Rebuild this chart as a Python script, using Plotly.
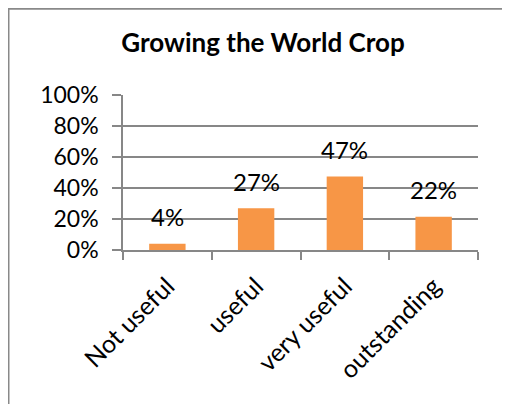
import plotly.graph_objects as go

# chart data
categories = ["Not useful", "useful", "very useful", "outstanding"]
shares = [0.04, 0.27, 0.475, 0.215]
share_labels = ["4%", "27%", "47%", "22%"]

# the page body adds an 8px margin, so the figure is 8px smaller
W, H = 502, 396
L, R, T, B = 115, 32, 87, 154
FONT = "Lato, Calibri, Carlito, sans-serif"
GRID = "#878787"


def px_x(x):
    return (x - L) / (W - L - R)


def px_y(y):
    return (H - B - y) / (H - T - B)


fig = go.Figure()

fig.add_trace(
    go.Bar(
        x=categories,
        y=shares,
        width=0.41,
        marker=dict(color="#F79646", line=dict(width=0)),
        hoverinfo="skip",
    )
)

for cat, val, lab in zip(categories, shares, share_labels):
    fig.add_annotation(
        x=cat,
        y=val,
        text=lab,
        showarrow=False,
        yshift=27,
        yanchor="middle",
        font=dict(family=FONT, size=24, color="black"),
    )

# chart frame, runs off the right and bottom of the picture
fig.add_shape(
    type="rect",
    xref="paper",
    yref="paper",
    x0=px_x(0.5),
    x1=px_x(530),
    y0=px_y(0.8),
    y1=px_y(420),
    line=dict(color="#898989", width=2),
    layer="below",
)

fig.update_layout(
    width=W,
    height=H,
    margin=dict(l=L, r=R, t=T, b=B, autoexpand=False),
    paper_bgcolor="white",
    plot_bgcolor="white",
    showlegend=False,
    title=dict(
        text="<b>Growing the World Crop</b>",
        xref="container",
        yref="container",
        x=255 / W,
        y=1 - 35 / H,
        xanchor="center",
        yanchor="middle",
        font=dict(family=FONT, size=26, color="black"),
    ),
    xaxis=dict(
        showline=True,
        linecolor=GRID,
        linewidth=1.5,
        ticks="outside",
        tickson="boundaries",
        ticklen=8,
        tickwidth=1.5,
        tickcolor=GRID,
        tickangle=-45,
        ticklabelstandoff=10,
        tickfont=dict(family=FONT, size=25, color="black"),
        showgrid=False,
        automargin=False,
    ),
    yaxis=dict(
        range=[0, 1],
        dtick=0.2,
        tickformat=".0%",
        showline=True,
        linecolor=GRID,
        linewidth=1.5,
        ticks="outside",
        ticklen=9,
        tickwidth=1.5,
        tickcolor=GRID,
        ticklabelstandoff=9,
        showgrid=True,
        gridcolor=GRID,
        gridwidth=1.5,
        zeroline=False,
        automargin=False,
        tickfont=dict(family=FONT, size=23, color="black"),
    ),
)

fig.write_html("out.html")
